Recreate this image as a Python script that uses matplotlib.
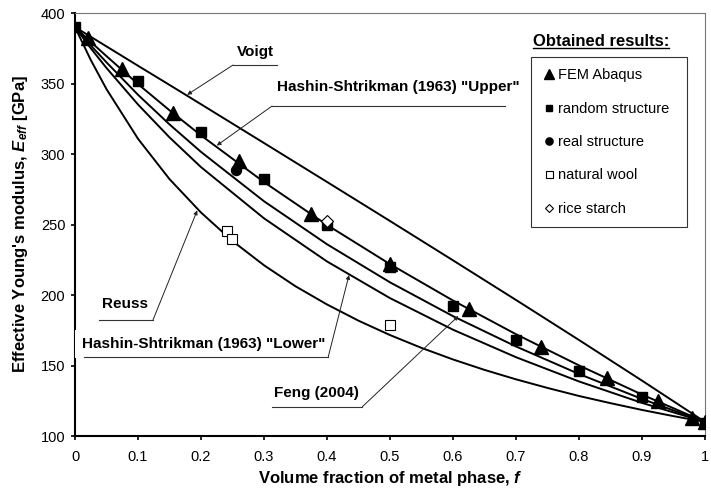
import numpy as np
import matplotlib
matplotlib.use("Agg")
import matplotlib.pyplot as plt
from matplotlib.ticker import MultipleLocator, FuncFormatter
from matplotlib.lines import Line2D

plt.rcParams['font.family'] = ['Liberation Sans', 'DejaVu Sans']
plt.rcParams['mathtext.fontset'] = 'custom'
plt.rcParams['mathtext.rm'] = 'Liberation Sans'
plt.rcParams['mathtext.it'] = 'Liberation Sans:italic'
plt.rcParams['mathtext.bf'] = 'Liberation Sans:bold'
plt.rcParams['mathtext.bfit'] = 'Liberation Sans:bold:italic'

# --- model curves ---
f_voigt = [0, 0.05, 0.1, 0.15, 0.2, 0.3, 0.4, 0.5, 0.6, 0.7, 0.8, 0.9, 1.0]
e_voigt = [390, 376.3, 362.6, 349.0, 335.3, 307.8, 280.2, 252.5, 224.6, 196.5, 168.1, 139.3, 110]

f_hsu = [0, 0.025, 0.05, 0.1, 0.15, 0.2, 0.3, 0.4, 0.5, 0.6, 0.7, 0.8, 0.9, 1.0]
e_hsu = [390, 379.5, 369.4, 349.6, 331.0, 313.2, 280.1, 249.7, 221.9, 196.1, 172.2, 150.1, 129.4, 110]

f_feng = [0, 0.025, 0.05, 0.1, 0.15, 0.2, 0.3, 0.4, 0.5, 0.6, 0.7, 0.8, 0.9, 1.0]
e_feng = [390, 377, 365, 342, 321, 301.5, 266.5, 236, 209, 185, 163.5, 144, 126.3, 110]

f_hsl = [0, 0.025, 0.05, 0.1, 0.15, 0.2, 0.3, 0.4, 0.5, 0.6, 0.7, 0.8, 0.9, 1.0]
e_hsl = [390, 375.0, 361.0, 335.1, 311.8, 290.7, 254.4, 223.8, 197.8, 175.4, 155.9, 138.7, 123.5, 110]

f_reuss = [0, 0.025, 0.05, 0.1, 0.15, 0.2, 0.25, 0.3, 0.35, 0.4, 0.45, 0.5, 0.55,
           0.6, 0.65, 0.7, 0.75, 0.8, 0.85, 0.9, 0.95, 1.0]
e_reuss = [390, 366.7, 346.0, 310.8, 282.2, 258.5, 238.3, 221.1, 206.2, 193.3, 181.8, 171.6, 162.5,
           154.3, 146.9, 140.2, 134.1, 128.4, 123.3, 118.5, 114.1, 110]

# --- obtained results ---
f_fem = [0.02, 0.075, 0.155, 0.26, 0.375, 0.5, 0.625, 0.74, 0.845, 0.925, 0.98, 1.0]
e_fem = [382, 360, 329, 295, 257.5, 222, 190, 163, 141, 124.5, 113, 110]

f_random = [0, 0.1, 0.2, 0.3, 0.4, 0.5, 0.6, 0.7, 0.8, 0.9, 1.0]
e_random = [390, 352, 315.5, 282, 249.5, 220, 192.5, 168, 146, 127.5, 109.5]

f_real = [0.255]
e_real = [289]

f_wool = [0.242, 0.25, 0.5]
e_wool = [245.5, 239.5, 178.5]

f_rice = [0.4]
e_rice = [252.5]

fig = plt.figure(figsize=(7.11, 4.91), dpi=100)
ax = fig.add_axes([0.1055, 0.112, 0.886, 0.8615])

for fx, ey in [(f_voigt, e_voigt), (f_hsu, e_hsu), (f_feng, e_feng),
               (f_hsl, e_hsl), (f_reuss, e_reuss)]:
    ax.plot(fx, ey, color='black', lw=1.4, zorder=2)

ax.plot(f_fem, e_fem, ls='none', marker='^', ms=9.5, color='black', label='FEM Abaqus', zorder=4)
ax.plot(f_random, e_random, ls='none', marker='s', ms=6.5, color='black', label='random structure', zorder=4)
ax.plot(f_real, e_real, ls='none', marker='o', ms=7.2, color='black', label='real structure', zorder=4)
ax.plot(f_wool, e_wool, ls='none', marker='s', ms=7, mfc='white', mec='black', mew=0.8,
        label='natural wool', zorder=4)
ax.plot(f_rice, e_rice, ls='none', marker='D', ms=6, mfc='white', mec='black', mew=0.8,
        label='rice starch', zorder=4)

ax.set_xlim(0, 1)
ax.set_ylim(100, 400)
ax.xaxis.set_major_locator(MultipleLocator(0.1))
ax.yaxis.set_major_locator(MultipleLocator(50))
ax.xaxis.set_major_formatter(FuncFormatter(lambda v, _: f"{v:g}"))
ax.tick_params(axis='both', direction='out', length=3, width=1.2, labelsize=10.5, colors='black')
ax.tick_params(axis='x', pad=7)
ax.tick_params(axis='y', pad=4)
for s in ['left', 'bottom']:
    ax.spines[s].set_linewidth(1.5)
for s in ['top', 'right']:
    ax.spines[s].set_linewidth(0.8)
    ax.spines[s].set_color('#777777')

ax.set_xlabel("Volume fraction of metal phase, $\\mathbfit{f}$", fontsize=12, fontweight='bold', labelpad=3.5)
ax.set_ylabel("Effective Young's modulus, $\\mathbfit{E}_{\\mathbfit{eff}}$ [GPa]",
              fontsize=12, fontweight='bold', labelpad=8)


def callout(text, xy_text, x0, x1, y_line, start, tip, white=False):
    kw = dict(ha='center', va='center', fontsize=11, fontweight='bold', zorder=6)
    if white:
        kw['bbox'] = dict(boxstyle='square,pad=0.45', fc='white', ec='none')
    ax.text(xy_text[0], xy_text[1], text, **kw)
    ax.plot([x0, x1], [y_line, y_line], color='#333333', lw=0.8, zorder=7, clip_on=False)
    ax.annotate('', xy=tip, xytext=start, zorder=7,
                arrowprops=dict(arrowstyle='-|>', color='#222222', lw=0.7,
                                mutation_scale=6, shrinkA=0, shrinkB=0))


callout('Voigt', (0.2857, 372.3), 0.2508, 0.3206, 363.1, (0.2508, 363.1), (0.178, 342))
callout('Hashin-Shtrikman (1963) "Upper"', (0.514, 347.5), 0.3127, 0.6825, 334.0,
        (0.3127, 334.0), (0.225, 306))
callout('Reuss', (0.0787, 193.6), 0.0378, 0.1238, 182.3, (0.1238, 182.3), (0.194, 260))
callout('Hashin-Shtrikman (1963) "Lower"', (0.2048, 165.0), 0.014, 0.402, 156.2,
        (0.402, 156.2), (0.435, 214.2), white=True)
callout('Feng (2004)', (0.384, 130.3), 0.3124, 0.4562, 120.8, (0.4562, 120.8), (0.6086, 185.1))

leg = ax.legend(loc='upper left', bbox_to_anchor=(0.7464, 0.8833, 0.2194, 0),
                bbox_transform=fig.transFigure, mode='expand', borderaxespad=0,
                fontsize=10.5, labelspacing=1.33, borderpad=0.75, handlelength=1.0,
                handletextpad=0.1, markerscale=0.72, fancybox=False, framealpha=1)
leg.get_frame().set_edgecolor('#333333')
leg.get_frame().set_linewidth(0.8)

title = fig.text(0.8453, 0.9145, 'Obtained results:', ha='center', va='center',
                 fontsize=12, fontweight='bold')
fig.canvas.draw()
bb = title.get_window_extent().transformed(fig.transFigure.inverted())
fig.add_artist(Line2D([bb.x0, bb.x1], [bb.y0 + 0.004, bb.y0 + 0.004], color='black', lw=1.0,
                      transform=fig.transFigure))

fig.savefig('out.png', dpi=100)
